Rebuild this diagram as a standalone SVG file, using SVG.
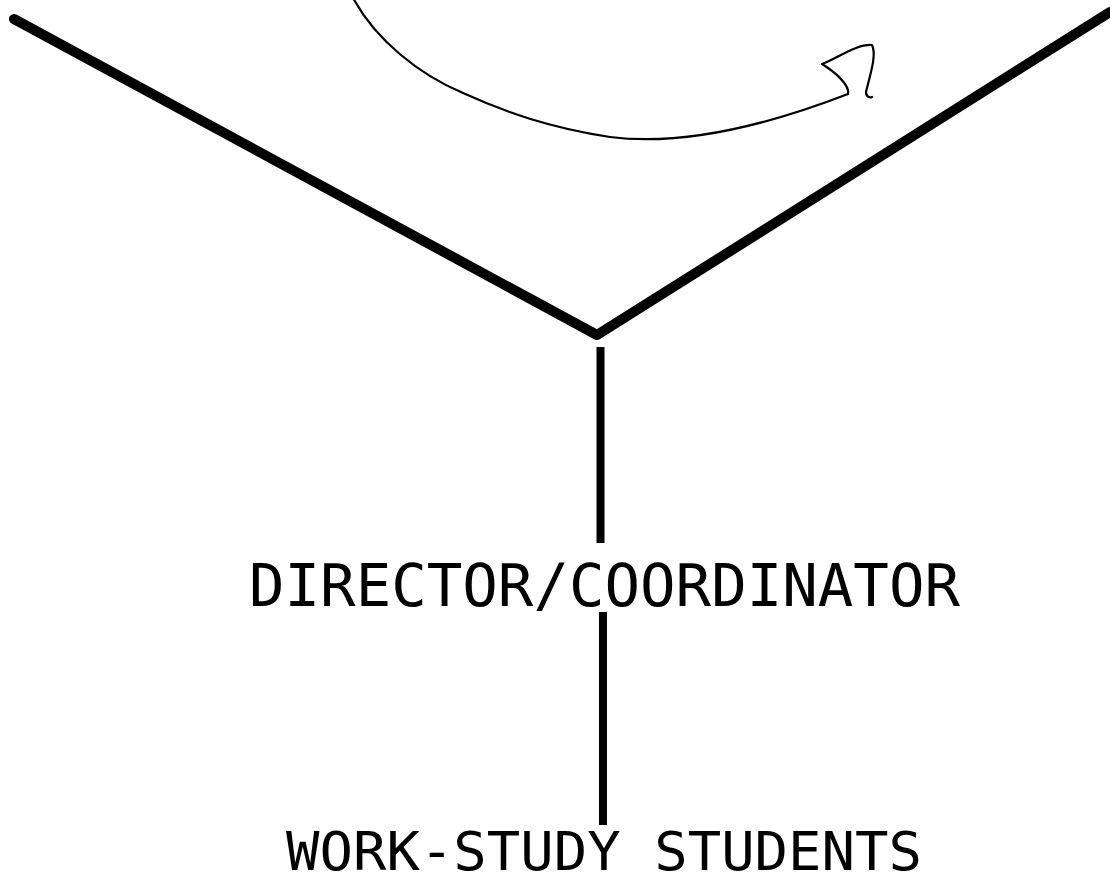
<svg xmlns="http://www.w3.org/2000/svg" width="1110" height="884" viewBox="0 0 1110 884">
  <style>
    .thick { stroke: #000; stroke-width: 10; stroke-linecap: round; stroke-linejoin: round; fill: none; }
    .stem { stroke: #000; stroke-width: 8; stroke-linecap: butt; fill: none; }
    .thin { stroke: #000; stroke-width: 2.2; stroke-linecap: round; stroke-linejoin: round; fill: none; }
    .label { font-family: "DejaVu Sans Mono", "Liberation Mono", monospace; fill: #000; }
  </style>
  <rect width="1110" height="884" fill="#fff"/>
  <g id="connectors">
    <polyline class="thick" points="14,19 597,335 1110,12"/>
    <line class="stem" x1="600.5" y1="347" x2="600.5" y2="543"/>
    <line class="stem" x1="603" y1="612" x2="603" y2="825"/>
    <path class="thin" d="M 352,-4 C 375,40 420,75 463,93 C 505,112 550,128 610,137 C 680,146 760,128 848,94"/>
    <path class="thin" d="M 848,94 C 850,85 835,72 822,64 C 838,58 856,44 872,45 C 877,55 870,75 866,92 C 866,97 870,98 872,97"/>
  </g>
  <g id="director">
    <text class="label" x="249" y="606" font-size="59" textLength="711" lengthAdjust="spacingAndGlyphs">DIRECTOR/COORDINATOR</text>
  </g>
  <g id="students">
    <text class="label" x="286" y="870" font-size="54" textLength="636" lengthAdjust="spacingAndGlyphs">WORK-STUDY STUDENTS</text>
  </g>
</svg>
